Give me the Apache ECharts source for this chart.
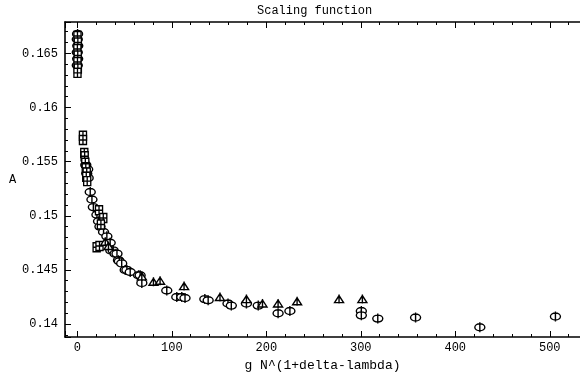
<!DOCTYPE html>
<html>
<head>
<meta charset="utf-8">
<script src="https://cdn.jsdelivr.net/npm/echarts@6/dist/echarts.min.js"></script>
<style>html,body{margin:0;padding:0;background:#fff}#c{width:580px;height:378px}</style>
</head>
<body>
<div id="c"></div>
<script>
var titleText = 'Scaling function';
var xName = 'g N^(1+delta-lambda)';
var yName = 'A';
var xRange = [-13, 532];
var yRange = [0.1388, 0.1679];

var circles = [
[0.3,0.1668],[0.0,0.1663],[0.5,0.1657],[0.0,0.1651],[0.4,0.1645],[0.0,0.1639],
[9,0.1547],[11,0.1543],[10,0.1539],[11.5,0.1535],
[13.7,0.1522],[15.5,0.1515],[17,0.1508],[20.8,0.1501],[22.5,0.1495],[24,0.1490],[27.8,0.1485],[31.3,0.1481],
[34.8,0.1475],[35.5,0.1468],[38,0.1468],[40,0.1465],[42,0.1465],[43.6,0.1459],[44.5,0.1458],[47,0.1456],
[50.7,0.1450],[52.5,0.1450],[56,0.1448],[64.8,0.1445],[66.5,0.1445],[68.3,0.1438],[94.7,0.1431],
[105.3,0.1425],[110.6,0.1425],[114,0.1424],[135,0.1423],[138.5,0.1422],[159.5,0.1419],[163,0.1417],
[179,0.1419],[191.5,0.1417],[212.5,0.1410],[225,0.1412],[300.6,0.1412],[300.6,0.1408],[318,0.1405],
[358,0.1406],[426,0.1397],[506,0.1407]
];
var squares = [
[0.2,0.1666],[0.6,0.1660],[0.1,0.1654],[0.5,0.1648],[0.2,0.1642],[0.6,0.1636],[0.2,0.1632],
[6,0.1574],[6,0.1570],[7.4,0.1558],[7.8,0.1555],[8.5,0.1549],[9,0.1544],[10,0.1540],[9.5,0.1536],[10.5,0.1532],
[23,0.1505],[27.5,0.1498],[25,0.1492],[20.5,0.1471],[23.5,0.1472]
];
var triangles = [
[29.6,0.1476],[33,0.1472],[68.3,0.1444],[80.6,0.1439],[87.6,0.1440],[113,0.1435],[151,0.1425],
[179,0.1423],[196,0.1419],[212.5,0.1419],[232.6,0.1421],[277,0.1423],[301.7,0.1423]
];

var FONT = 'Liberation Mono';
var circlePath = 'path://M0,5 A5,3.5 0 1,0 10,5 A5,3.5 0 1,0 0,5 Z M5,0 L5,10';
var squarePath = 'path://M0,0 L8,0 L8,9 L0,9 Z M4,0 L4,9 M0,4.5 L8,4.5';
var trianglePath = 'path://M0,8 L4.5,1 L9,8 Z M4.5,0 L4.5,9';

function xFmt(v){ return Math.abs(v/100 - Math.round(v/100)) < 1e-6 ? String(Math.round(v)) : ''; }
function yFmt(v){ return Math.abs(v*200 - Math.round(v*200)) < 1e-6 ? String(+v.toFixed(3)) : ''; }

var blk = '#000';
function xAx(pos, split, len, showLine, labels){
  var a = {type:'value', position:pos, min:xRange[0], max:xRange[1], splitNumber:split,
    axisLine:{show:showLine, onZero:false, lineStyle:{color:blk, width:1.6}},
    axisTick:{show:true, inside:true, length:len, lineStyle:{color:blk, width:1}},
    axisLabel:{show:!!labels, formatter:xFmt, fontFamily:FONT, fontSize:12, color:blk, margin:5, showMinLabel:false, showMaxLabel:false},
    splitLine:{show:false}};
  if (labels) { a.name = xName; a.nameLocation='middle'; a.nameGap=22; a.nameTextStyle={fontFamily:FONT, fontSize:13, color:blk}; }
  return a;
}
function yAx(split, len, showLine, labels){
  var a = {type:'value', position:'left', min:yRange[0], max:yRange[1], splitNumber:split,
    axisLine:{show:showLine, onZero:false, lineStyle:{color:blk, width:1.6}},
    axisTick:{show:true, inside:true, length:len, lineStyle:{color:blk, width:1}},
    axisLabel:{show:!!labels, formatter:yFmt, fontFamily:FONT, fontSize:12, color:blk, margin:7, showMinLabel:false, showMaxLabel:false},
    splitLine:{show:false}};
  if (labels) { a.name = yName; a.nameLocation='middle'; a.nameGap=24; a.nameRotate=0; a.nameTextStyle={fontFamily:FONT, fontSize:12, color:blk}; }
  return a;
}
function sc(data, sym, size){
  return {type:'scatter', data:data, symbol:sym, symbolSize:size, symbolKeepAspect:true,
    xAxisIndex:0, yAxisIndex:0, silent:true,
    itemStyle:{color:'#fff', borderColor:blk, borderWidth:1.4, opacity:1}};
}
var chart = echarts.init(document.getElementById('c'), null, {renderer:'canvas'});
chart.setOption({
  animation:false,
  backgroundColor:'#fff',
  title:{text:titleText, left:252, top:0, textStyle:{fontFamily:FONT, fontSize:12, fontWeight:'normal', color:blk}},
  grid:{left:65, right:0, top:22, bottom:41, containLabel:false},
  xAxis:[ xAx('bottom',27,3,true,true), xAx('bottom',5,6,false,false), xAx('top',27,3,true,false), xAx('top',5,6,false,false) ],
  yAxis:[ yAx(29,3,true,true), yAx(5,6,false,false) ],
  series:[ sc(circles, circlePath, [10,10]), sc(squares, squarePath, [8,9]), sc(triangles, trianglePath, [9,9]) ]
});
</script>
</body>
</html>
